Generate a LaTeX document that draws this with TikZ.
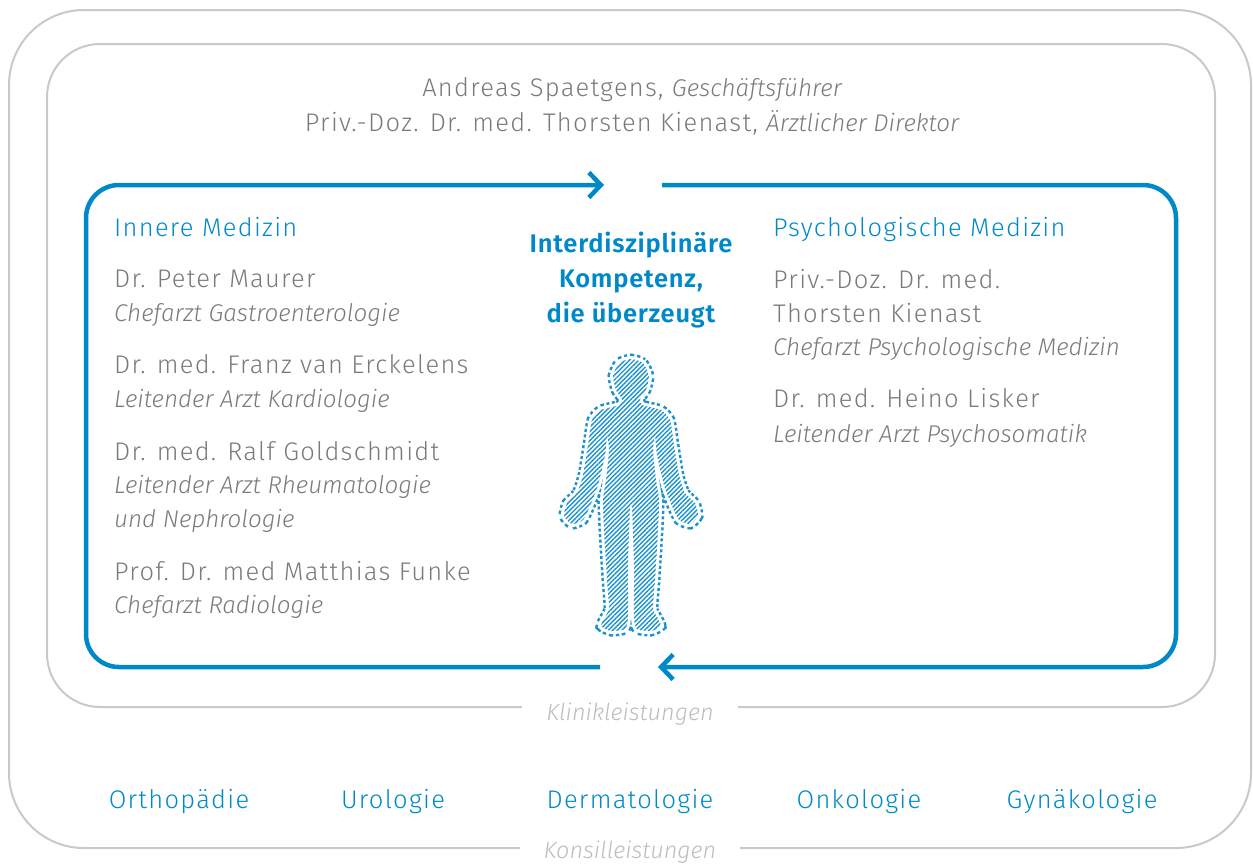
\documentclass[tikz,border=0pt]{standalone}
\usepackage{fontspec}
\setmainfont{Fira Sans Light}[BoldFont={Fira Sans SemiBold},ItalicFont={Fira Sans Light Italic}]
\newfontfamily\upf{Fira Sans Light}[LetterSpace=5]
\newfontfamily\itf{Fira Sans Light Italic}
\newfontfamily\bff{Fira Sans SemiBold}[LetterSpace=3]
\newcommand{\rit}[1]{{\itf\fontsize{24.2}{28}\selectfont #1}}
\usetikzlibrary{arrows.meta,patterns.meta}
\definecolor{kblue}{HTML}{0089C8}
\definecolor{khatch}{HTML}{1A92CE}
\definecolor{kgray}{HTML}{7A7A7A}
\definecolor{klight}{HTML}{BDBDBD}
\definecolor{kframe}{HTML}{C9C9C9}
\begin{document}
\begin{tikzpicture}[x=1pt,y=-1pt,
  gframe/.style={draw=kframe,line width=2pt},
  blueframe/.style={draw=kblue,line width=4.5pt,rounded corners=33pt},
  chev/.style={-{Straight Barb[length=12pt,width=25pt,line width=4.5pt]}},
  pname/.style={anchor=base west,inner sep=0pt,text=kgray,font=\upf\fontsize{25.5}{28}\selectfont},
  prole/.style={anchor=base west,inner sep=0pt,text=kgray,font=\itf\fontsize{24.2}{28}\selectfont},
  phead/.style={anchor=base west,inner sep=0pt,text=kblue,font=\upf\fontsize{25.5}{28}\selectfont},
  pmid/.style={anchor=base,inner sep=0pt,text=kblue,font=\bff\fontsize{25.5}{28}\selectfont},
  ptop/.style={anchor=base,inner sep=0pt,text=kgray,font=\upf\fontsize{25.5}{28}\selectfont},
  pdept/.style={anchor=base,inner sep=0pt,text=kblue,font=\upf\fontsize{25.5}{28}\selectfont},
  ptag/.style={anchor=base,fill=white,inner xsep=24pt,inner ysep=4pt,text=klight,font=\itf\fontsize{23.4}{26}\selectfont}
]
\useasboundingbox (0,0) rectangle (1253,863);
% frames
\draw[gframe,rounded corners=75pt] (9,10) rectangle (1251,848);
\draw[gframe,rounded corners=53pt] (47,44) rectangle (1215,707);
\node[ptag] (kl) at (630,720) {Klinikleistungen};
\node[ptag,inner ysep=2pt] (ko) at (630,858) {Konsilleistungen};
% blue cycle
\coordinate (tl) at (86,185);
\coordinate (tr) at (1176,185);
\coordinate (br) at (1176,667);
\coordinate (bl) at (86,667);
\coordinate (topin) at (604,185);
\coordinate (topout) at (662,185);
\coordinate (botin) at (658,667);
\coordinate (botout) at (600,667);
\draw[blueframe,chev] (botout) -- (bl) -- (tl) -- (topin);
\draw[blueframe,chev] (topout) -- (tr) -- (br) -- (botin);
% top
\node[ptop] (t1) at (632,96) {Andreas Spaetgens, \rit{Geschäftsführer}};
\node[ptop] (t2) at (632,131) {Priv.-Doz. Dr. med. Thorsten Kienast, \rit{Ärztlicher Direktor}};
% left column
\node[phead] (im) at (114,236) {Innere Medizin};
\node[pname] (l1) at (114,287) {Dr. Peter Maurer};
\node[prole] (l2) at (114,321) {Chefarzt Gastroenterologie};
\node[pname] (l3) at (114,373) {Dr. med. Franz van Erckelens};
\node[prole] (l4) at (114,407) {Leitender Arzt Kardiologie};
\node[pname] (l5) at (114,460) {Dr. med. Ralf Goldschmidt};
\node[prole] (l6) at (114,493) {Leitender Arzt Rheumatologie};
\node[prole] (l7) at (114,527) {und Nephrologie};
\node[pname] (l8) at (114,580) {Prof. Dr. med Matthias Funke};
\node[prole] (l9) at (114,613) {Chefarzt Radiologie};
% right column
\node[phead] (pm) at (773,236) {Psychologische Medizin};
\node[pname] (r1) at (773,288) {Priv.-Doz. Dr. med.};
\node[pname] (r2) at (773,322) {Thorsten Kienast};
\node[prole] (r3) at (773,355) {Chefarzt Psychologische Medizin};
\node[pname] (r4) at (773,407) {Dr. med. Heino Lisker};
\node[prole] (r5) at (773,442) {Leitender Arzt Psychosomatik};
% center
\node[pmid] (c1) at (631,252) {Interdisziplinäre};
\node[pmid] (c2) at (631,287) {Kompetenz,};
\node[pmid] (c3) at (631,322) {die überzeugt};
% figure
\def\body{plot[smooth cycle,tension=0.35] coordinates {
(631,359) (643,363) (649,376) (646,390) (640,399) (642,405) (661,410) (670,420)
(674,445) (679,475) (685,493) (695,503) (698,516) (690,524) (679,520) (672,506)
(664,485) (657,455) (655,436) (653,450) (656,480) (659,500) (658,530) (655,580)
(653,608) (657,617) (661,626) (651,631) (637,629) (634,617) (634,565) (632,508)
(630,508) (628,565) (628,617) (625,629) (611,631) (601,626) (605,617) (609,608)
(607,580) (604,530) (603,500) (606,480) (609,450) (607,436) (605,455) (598,485)
(590,506) (583,520) (572,524) (564,516) (567,503) (577,493) (583,475) (588,445)
(592,420) (601,410) (620,405) (622,399) (616,390) (613,376) (619,363)}}
\draw[khatch,line width=11pt,dash pattern=on 3pt off 2.5pt] \body;
\draw[white,line width=6pt] \body;
\fill[white] \body;
\fill[pattern={Lines[angle=45,distance=3.2pt,line width=1.4pt]},pattern color=khatch] \body;
% departments
\node[pdept] (d1) at (179,808) {Orthopädie};
\node[pdept] (d2) at (393,808) {Urologie};
\node[pdept] (d3) at (630,808) {Dermatologie};
\node[pdept] (d4) at (859,808) {Onkologie};
\node[pdept] (d5) at (1082,808) {Gynäkologie};
\end{tikzpicture}
\end{document}
